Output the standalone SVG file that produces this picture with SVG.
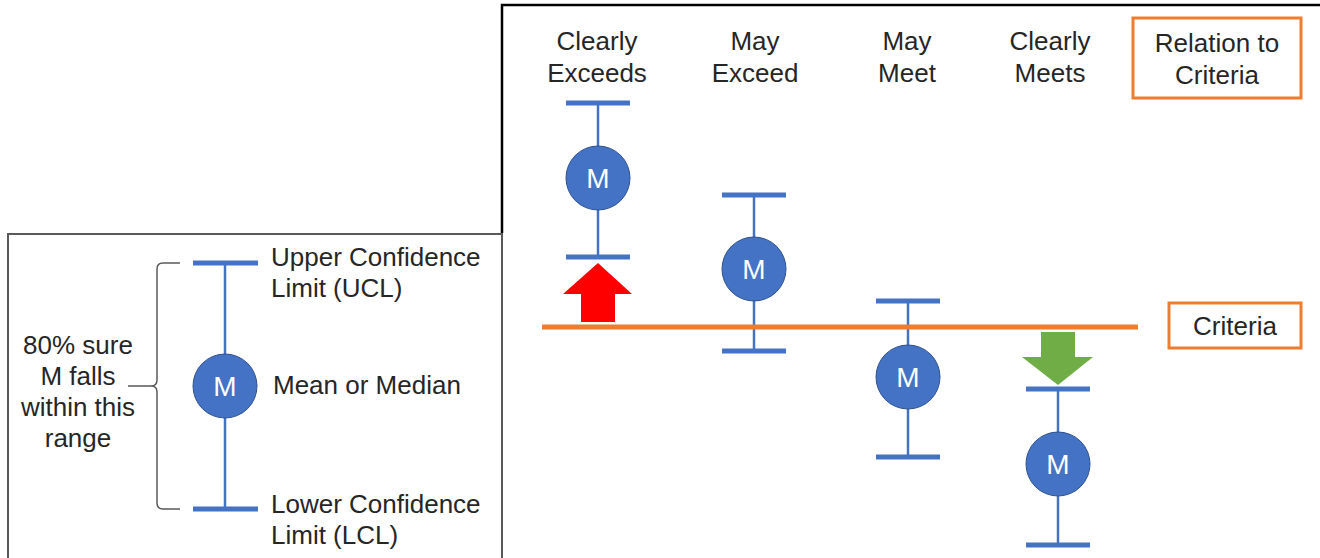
<svg xmlns="http://www.w3.org/2000/svg" width="1320" height="558" viewBox="0 0 1320 558">
<style>
.t{font-family:"Liberation Sans",Arial,sans-serif;font-size:26px;fill:#262626}
.c{text-anchor:middle}
.m{font-family:"Liberation Sans",Arial,sans-serif;font-size:28px;fill:#ffffff;text-anchor:middle}
.bar{stroke:#4472C4;stroke-width:2.5;fill:none}
.cap{stroke:#4472C4;stroke-width:5;fill:none}
.dot{fill:#4472C4;stroke:#2F528F;stroke-width:1}
.ob{fill:#ffffff;stroke:#ED7D31;stroke-width:3}
</style>
<rect width="1320" height="558" fill="#ffffff"/>
<g id="panel-right">
<path d="M502,233 V5 H1325" fill="none" stroke="#000000" stroke-width="2.5"/>
</g>
<g id="panel-legend">
<rect x="8" y="234" width="494" height="340" fill="#ffffff" stroke="#595959" stroke-width="2"/>
</g>
<g id="connectors">
<line class="bar" x1="225" y1="263" x2="225" y2="509"/>
<line class="bar" x1="598" y1="103" x2="598" y2="257"/>
<line class="bar" x1="754" y1="195" x2="754" y2="351"/>
<line class="bar" x1="908" y1="301" x2="908" y2="457"/>
<line class="bar" x1="1058" y1="389" x2="1058" y2="545"/>
<path d="M180,263 H163 Q157,263 157,269 V380 Q157,386 151,386 H128 M151,386 Q157,386 157,392 V503 Q157,509 163,509 H180" fill="none" stroke="#595959" stroke-width="1.5"/>
<line x1="542" y1="327" x2="1138" y2="327" stroke="#ED7D31" stroke-width="5"/>
</g>
<g id="legend-bar">
<line class="cap" x1="193" y1="263" x2="258" y2="263"/>
<line class="cap" x1="193" y1="509" x2="258" y2="509"/>
<circle class="dot" cx="225" cy="386" r="32"/>
<text class="m" x="225" y="396">M</text>
</g>
<g id="legend-text">
<text class="t c" x="78" y="354">80% sure</text>
<text class="t c" x="78" y="385">M falls</text>
<text class="t c" x="78" y="416">within this</text>
<text class="t c" x="78" y="447">range</text>
<text class="t" x="271" y="266">Upper Confidence</text>
<text class="t" x="271" y="297">Limit (UCL)</text>
<text class="t" x="273" y="394">Mean or Median</text>
<text class="t" x="271" y="513">Lower Confidence</text>
<text class="t" x="271" y="544">Limit (LCL)</text>
</g>
<g id="col-clearly-exceeds">
<text class="t c" x="597" y="50">Clearly</text>
<text class="t c" x="597" y="82">Exceeds</text>
<line class="cap" x1="566" y1="103" x2="630" y2="103"/>
<line class="cap" x1="566" y1="257" x2="630" y2="257"/>
<circle class="dot" cx="598" cy="178" r="32"/>
<text class="m" x="598" y="188">M</text>
<polygon points="598,263 632,294 615,294 615,322 581,322 581,294 563,294" fill="#FF0000"/>
</g>
<g id="col-may-exceed">
<text class="t c" x="755" y="50">May</text>
<text class="t c" x="755" y="82">Exceed</text>
<line class="cap" x1="722" y1="195" x2="786" y2="195"/>
<line class="cap" x1="722" y1="351" x2="786" y2="351"/>
<circle class="dot" cx="754" cy="269" r="32"/>
<text class="m" x="754" y="279">M</text>
</g>
<g id="col-may-meet">
<text class="t c" x="907" y="50">May</text>
<text class="t c" x="907" y="82">Meet</text>
<line class="cap" x1="876" y1="301" x2="940" y2="301"/>
<line class="cap" x1="876" y1="457" x2="940" y2="457"/>
<circle class="dot" cx="908" cy="377" r="32"/>
<text class="m" x="908" y="387">M</text>
</g>
<g id="col-clearly-meets">
<text class="t c" x="1050" y="50">Clearly</text>
<text class="t c" x="1050" y="82">Meets</text>
<polygon points="1041,332 1075,332 1075,357 1093,357 1058,385 1022,357 1041,357" fill="#70AD47"/>
<line class="cap" x1="1026" y1="389" x2="1090" y2="389"/>
<line class="cap" x1="1026" y1="545" x2="1090" y2="545"/>
<circle class="dot" cx="1058" cy="464" r="32"/>
<text class="m" x="1058" y="474">M</text>
</g>
<g id="relation-label">
<rect class="ob" x="1133" y="18" width="168" height="80"/>
<text class="t c" x="1217" y="52">Relation to</text>
<text class="t c" x="1217" y="84">Criteria</text>
</g>
<g id="criteria-label">
<rect class="ob" x="1169" y="303" width="132" height="45"/>
<text class="t c" x="1235" y="335">Criteria</text>
</g>
</svg>
